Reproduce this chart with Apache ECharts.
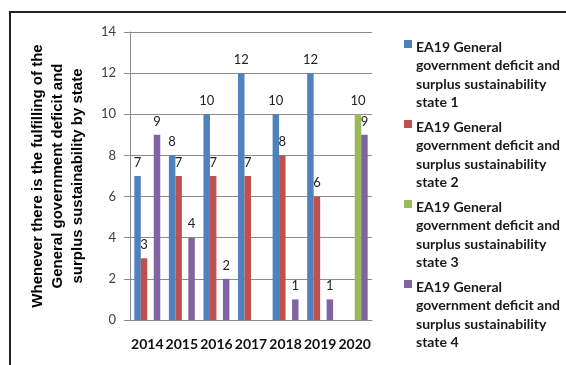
<!DOCTYPE html>
<html>
<head>
<meta charset="utf-8">
<script src="https://cdn.jsdelivr.net/npm/echarts@6/dist/echarts.min.js"></script>
<style>html,body{margin:0;padding:0;background:#fff}#c{width:566px;height:365px}</style>
</head>
<body>
<div id="c"></div>
<script>
const categories = ['2014','2015','2016','2017','2018','2019','2020'];
const seriesNames = [
  'EA19 General government deficit and surplus sustainability state 1',
  'EA19 General government deficit and surplus sustainability state 2',
  'EA19 General government deficit and surplus sustainability state 3',
  'EA19 General government deficit and surplus sustainability state 4'
];
const state1 = [7, 8, 10, 12, 10, 12, null];
const state2 = [3, 7, 7, 7, 8, 6, null];
const state3 = [null, null, null, null, null, null, 10];
const state4 = [9, 4, 2, null, 1, 1, 9];
const yTicks = [0, 2, 4, 6, 8, 10, 12, 14];
const yTitle = 'Whenever there is the fulfilling of the\nGeneral government deficit and\nsurplus sustainability by state';

const colors = ['#4F81BD', '#C0504D', '#9BBB59', '#8064A2'];
const values = [state1, state2, state3, state4];

const chart = echarts.init(document.getElementById('c'), null, {renderer: 'canvas'});
const iconPath = 'path://M0,0 L0,0 M0,2 L8,2 L8,10 L0,10 Z M0,74 L0,74';

chart.setOption({
  animation: false,
  color: colors,
  grid: {left: 130, right: 194, top: 32, bottom: 45, containLabel: false},
  xAxis: {
    type: 'category',
    data: categories,
    axisLine: {lineStyle: {color: '#8c8c8c', width: 1}},
    axisTick: {show: false},
    axisLabel: {color: '#111', fontFamily: 'Lato', fontWeight: 'bold', fontSize: 14, margin: 17, interval: 0}
  },
  yAxis: {
    type: 'value',
    min: yTicks[0], max: yTicks[yTicks.length - 1], interval: 2,
    axisLine: {show: true, lineStyle: {color: '#8c8c8c'}},
    axisTick: {show: true, length: 6, lineStyle: {color: '#8c8c8c'}},
    splitLine: {lineStyle: {color: '#8c8c8c', width: 1}},
    axisLabel: {color: '#404040', fontFamily: 'Lato', fontSize: 13, margin: 14},
    name: yTitle,
    nameLocation: 'middle',
    nameRotate: 90,
    nameGap: 42,
    nameTextStyle: {color: '#000', fontFamily: 'Liberation Sans', fontWeight: 'bold', fontSize: 15, lineHeight: 20, align: 'center'}
  },
  legend: {
    orient: 'vertical',
    left: 399, top: 33,
    itemWidth: 8, itemHeight: 74,
    itemGap: 6,
    icon: iconPath,
    data: seriesNames.map(n => ({name: n, icon: iconPath})),
    formatter: function (name) {
      return name.replace('EA19 General government deficit and surplus sustainability state ',
        'EA19 General\ngovernment deficit and\nsurplus sustainability\nstate ');
    },
    textStyle: {color: '#1a1a1a', fontFamily: 'Lato', fontWeight: 'bold', fontSize: 14, lineHeight: 18.5, padding: [0, 0, 0, -1]},
    selectedMode: false
  },
  graphic: [{
    type: 'rect', shape: {x: 10, y: 12, width: 600, height: 400},
    style: {fill: 'none', stroke: '#222', lineWidth: 2}, silent: true, z: 100
  }],
  series: values.map((v, i) => ({
    name: seriesNames[i],
    type: 'bar',
    data: v,
    barGap: '0%',
    barCategoryGap: '25%',
    itemStyle: {color: colors[i]},
    label: {show: true, position: 'top', distance: 7, color: '#222', fontFamily: 'Lato', fontSize: 13}
  }))
});
</script>
</body>
</html>
